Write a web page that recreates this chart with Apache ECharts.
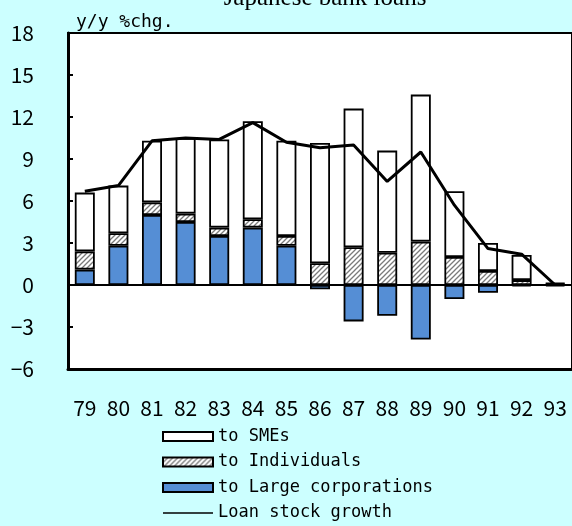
<!DOCTYPE html>
<html>
<head>
<meta charset="utf-8">
<script src="https://cdn.jsdelivr.net/npm/echarts@6/dist/echarts.min.js"></script>
<style>
  html, body { margin: 0; padding: 0; background: #ccffff; }
  #chart { width: 572px; height: 526px; }
</style>
</head>
<body>
<div id="chart"></div>
<script>
var years = ['79','80','81','82','83','84','85','86','87','88','89','90','91','92','93'];
var largeCorp   = [1.1, 2.8, 5.0, 4.5, 3.5, 4.1, 2.8, -0.3, -2.6, -2.2, -3.9, -1.0, -0.55, -0.1, -0.1];
var individuals = [1.3, 0.9, 0.9, 0.6, 0.6, 0.6, 0.7, 1.55, 2.7, 2.3, 3.1, 2.0, 1.0, 0.35, 0.08];
var smes        = [4.2, 3.4, 4.4, 5.4, 6.3, 7.0, 6.8, 8.6, 9.9, 7.3, 10.5, 4.7, 2.0, 1.8, 0.07];
var loanGrowth  = [6.7, 7.1, 10.3, 10.5, 10.4, 11.6, 10.2, 9.8, 10.0, 7.4, 9.5, 5.7, 2.6, 2.2, 0.0];

// diagonal hatch for the individuals bars
var hatch = document.createElement('canvas');
hatch.width = 5; hatch.height = 5;
var hc = hatch.getContext('2d');
hc.fillStyle = '#ffffff';
hc.fillRect(0, 0, 5, 5);
hc.strokeStyle = '#7a7a7a';
hc.lineWidth = 1.3;
hc.beginPath();
hc.moveTo(-1, 6); hc.lineTo(6, -1);
hc.moveTo(-1, 1); hc.lineTo(1, -1);
hc.moveTo(4, 6); hc.lineTo(6, 4);
hc.stroke();

var myChart = echarts.init(document.getElementById('chart'));

var numFont = 'Noto Sans CJK JP';
var monoFont = 'DejaVu Sans Mono';

var barStyle = function(color) {
    return { color: color, borderColor: '#000', borderWidth: 1.8 };
};

var option = {
    backgroundColor: '#ccffff',
    animation: false,
    title: {
        text: 'Japanese bank loans',
        left: 320,
        textAlign: 'center',
        top: -19,
        textStyle: { fontFamily: 'Liberation Serif', fontWeight: 'normal', fontSize: 25, color: '#000' }
    },
    graphic: [{
        type: 'text',
        left: 76,
        top: 13,
        style: { text: 'y/y %chg.', font: '18px "DejaVu Sans Mono"', fill: '#000' }
    }],
    legend: {
        orient: 'vertical',
        left: 162,
        top: 428,
        padding: 0,
        itemWidth: 50,
        itemHeight: 9,
        itemGap: 8.5,
        data: [
            { name: 'to SMEs', icon: 'rect' },
            { name: 'to Individuals', icon: 'rect' },
            { name: 'to Large corporations', icon: 'rect' },
            { name: 'Loan stock growth', icon: 'path://M0,0H50V1.5H0Z', lineStyle: { width: 1.5 } }
        ],
        textStyle: { fontFamily: monoFont, fontSize: 17, lineHeight: 17, color: '#000' }
    },
    grid: {
        left: 68,
        top: 33,
        right: -3,
        height: 336,
        show: true,
        backgroundColor: '#ffffff',
        borderColor: '#000',
        borderWidth: 2
    },
    xAxis: {
        type: 'category',
        data: years,
        axisLine: { onZero: false, lineStyle: { color: '#000', width: 3 } },
        axisTick: { inside: true, length: 7, lineStyle: { color: '#000', width: 2 } },
        axisLabel: { margin: 29, fontFamily: numFont, fontSize: 21, color: '#000' },
        splitLine: { show: false }
    },
    yAxis: {
        type: 'value',
        min: -6,
        max: 18,
        interval: 3,
        axisLine: { show: true, lineStyle: { color: '#000', width: 3 } },
        axisTick: { show: true, inside: true, length: 5, lineStyle: { color: '#000', width: 2 } },
        axisLabel: {
            margin: 34,
            align: 'right',
            fontFamily: numFont,
            fontSize: 21,
            color: '#000',
            formatter: function(v) { return String(v).replace('-', '\u2212'); }
        },
        splitLine: { show: false }
    },
    series: [
        {
            name: 'to Large corporations',
            type: 'bar',
            stack: 'loans',
            barWidth: 20,
            itemStyle: barStyle('#558ed5'),
            data: largeCorp
        },
        {
            name: 'to Individuals',
            type: 'bar',
            stack: 'loans',
            barWidth: 20,
            itemStyle: barStyle({ image: hatch, repeat: 'repeat' }),
            data: individuals
        },
        {
            name: 'to SMEs',
            type: 'bar',
            stack: 'loans',
            barWidth: 20,
            itemStyle: barStyle('#ffffff'),
            data: smes
        },
        {
            name: 'Loan stock growth',
            type: 'line',
            symbol: 'none',
            lineStyle: { color: '#000', width: 3 },
            itemStyle: { color: '#000' },
            data: loanGrowth,
            markLine: {
                silent: true,
                symbol: 'none',
                label: { show: false },
                lineStyle: { color: '#000', width: 2, type: 'solid' },
                data: [{ yAxis: 0 }]
            }
        }
    ]
};

myChart.setOption(option);
</script>
</body>
</html>
